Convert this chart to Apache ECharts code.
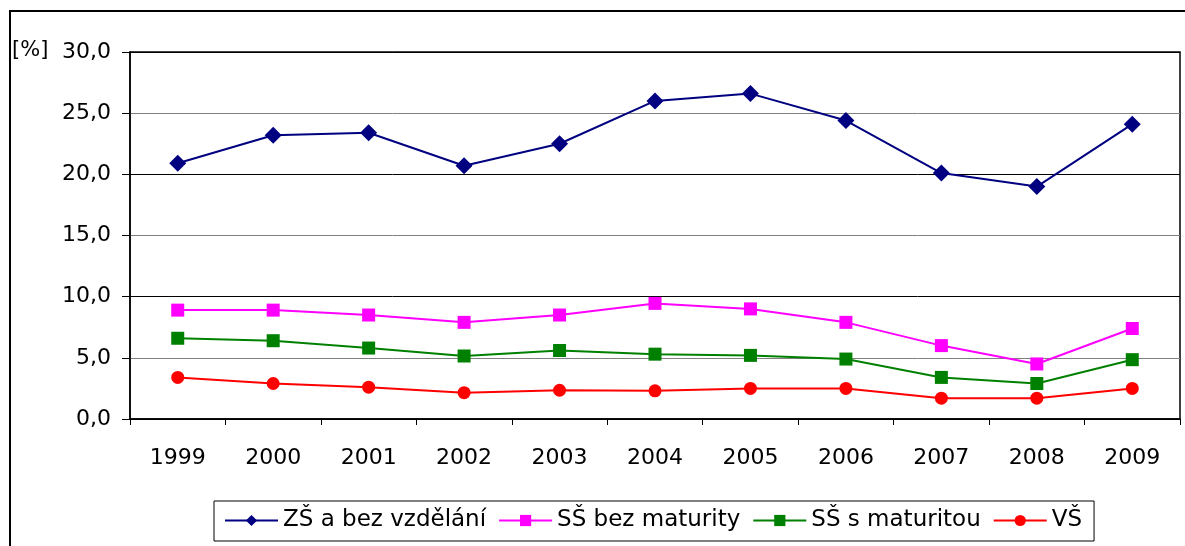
<!DOCTYPE html>
<html>
<head>
<meta charset="utf-8">
<script src="https://cdn.jsdelivr.net/npm/echarts@6/dist/echarts.min.js"></script>
<style>
  html, body { margin: 0; padding: 0; background: #fff; }
  #chart { width: 1185px; height: 546px; }
</style>
</head>
<body>
<div id="chart"></div>
<script>
const years = ["1999", "2000", "2001", "2002", "2003", "2004", "2005", "2006", "2007", "2008", "2009"]
const zsBezVzdelani = [20.9, 23.2, 23.4, 20.7, 22.5, 26.0, 26.6, 24.4, 20.1, 19.0, 24.1]
const ssBezMaturity = [8.9, 8.9, 8.5, 7.9, 8.5, 9.45, 9.0, 7.9, 6.0, 4.5, 7.4]
const ssSMaturitou = [6.6, 6.4, 5.8, 5.15, 5.6, 5.3, 5.2, 4.9, 3.4, 2.9, 4.85]
const vs = [3.4, 2.9, 2.6, 2.15, 2.35, 2.3, 2.5, 2.5, 1.7, 1.7, 2.5]

const font = "DejaVu Sans, Arial, sans-serif"

const makeSeries = (name, data, color, symbol, size) => ({
  name,
  type: "line",
  data,
  symbol,
  symbolSize: size,
  showSymbol: true,
  itemStyle: { color },
  lineStyle: { color, width: 2 },
  emphasis: { disabled: true },
  animation: false
})

const chart = echarts.init(document.getElementById("chart"))
chart.setOption({
  animation: false,
  textStyle: { fontFamily: font },
  grid: {
    left: 130, right: 5, top: 52, bottom: 127,
    show: true, borderColor: "#000", borderWidth: 1.5
  },
  graphic: [
    {
      type: "rect",
      shape: { x: 10, y: 11, width: 1200, height: 600 },
      style: { fill: "none", stroke: "#000", lineWidth: 2 },
      silent: true
    },
    {
      type: "text",
      left: 12, top: 40,
      style: { text: "[%]", font: "21px " + font, fill: "#000" }
    }
  ],
  legend: {
    left: 214, top: 501,
    padding: [8, 12, 9, 10],
    itemGap: 12,
    itemWidth: 53,
    itemHeight: 14,
    borderColor: "#000",
    borderWidth: 1,
    textStyle: { fontSize: 23, color: "#000", fontFamily: font },
    data: ["ZŠ a bez vzdělání", "SŠ bez maturity", "SŠ s maturitou", "VŠ"]
  },
  xAxis: {
    type: "category",
    data: years,
    boundaryGap: true,
    axisLine: { lineStyle: { color: "#000", width: 1.5 } },
    axisTick: { show: true, inside: false, length: 6, alignWithLabel: false, lineStyle: { color: "#000" } },
    axisLabel: { color: "#000", fontSize: 22, margin: 28, fontFamily: font },
    splitLine: { show: false }
  },
  yAxis: {
    type: "value",
    min: 0, max: 30, interval: 5,
    axisLine: { show: true, lineStyle: { color: "#000", width: 1.5 } },
    axisTick: { show: true, length: 8, lineStyle: { color: "#000" } },
    axisLabel: {
      color: "#000", fontSize: 22, margin: 19, fontFamily: font,
      formatter: v => v.toFixed(1).replace(".", ",")
    },
    splitLine: { show: true, lineStyle: { color: ["#000", "#808080"], width: 1 } }
  },
  series: [
    makeSeries("ZŠ a bez vzdělání", zsBezVzdelani, "#000080", "diamond", 17),
    makeSeries("SŠ bez maturity", ssBezMaturity, "#FF00FF", "rect", 13),
    makeSeries("SŠ s maturitou", ssSMaturitou, "#008000", "rect", 13),
    makeSeries("VŠ", vs, "#FF0000", "circle", 13)
  ]
})
</script>
</body>
</html>
